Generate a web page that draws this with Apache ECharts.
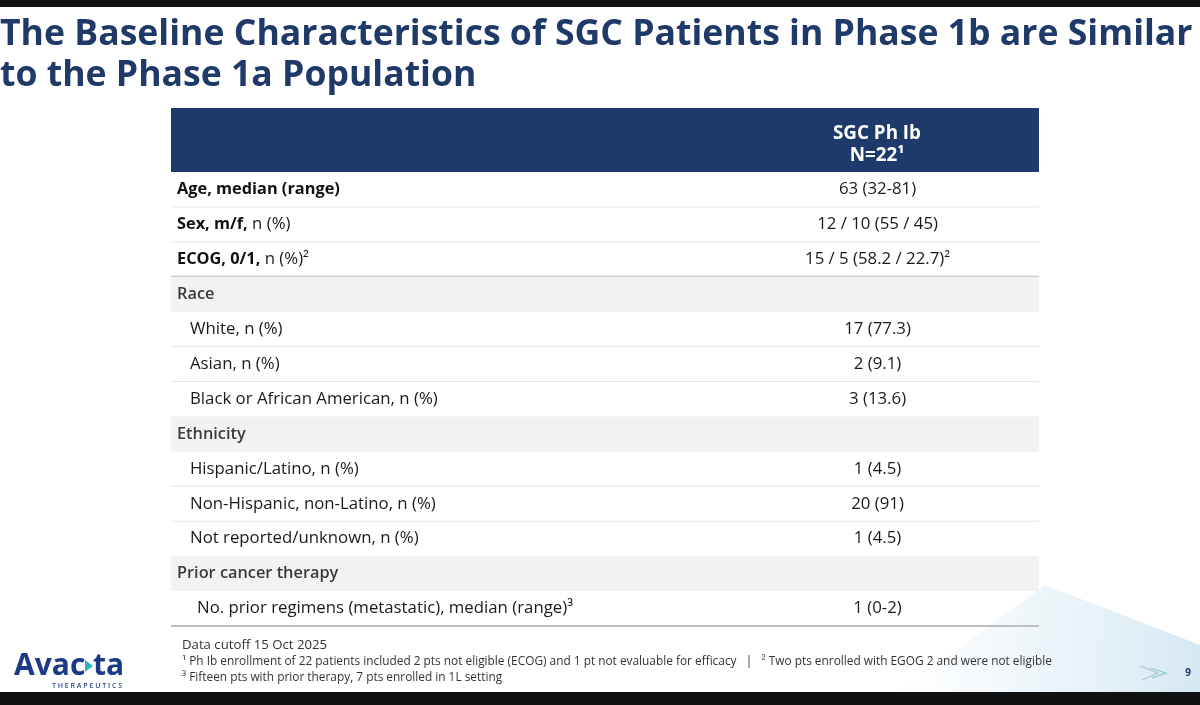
<!DOCTYPE html>
<html>
<head>
<meta charset="utf-8">
<script src="https://cdn.jsdelivr.net/npm/echarts@6/dist/echarts.min.js"></script>
<style>
  html, body { margin: 0; padding: 0; background: #fff; }
  #chart { width: 1200px; height: 705px; }
</style>
</head>
<body>
<div id="chart"></div>
<script>
// table content
const rowLabels = [
  '{b|Age, median (range)}',
  '{b|Sex, m/f,} n (%)',
  '{b|ECOG, 0/1,} n (%)²',
  '{s|Race}',
  'White, n (%)',
  'Asian, n (%)',
  'Black or African American, n (%)',
  '{s|Ethnicity}',
  'Hispanic/Latino, n (%)',
  'Non-Hispanic, non-Latino, n (%)',
  'Not reported/unknown, n (%)',
  '{s|Prior cancer therapy}',
  'No. prior regimens (metastatic), median (range)³'
];
const rowValues = [
  '63 (32-81)',
  '12 / 10 (55 / 45)',
  '15 / 5 (58.2 / 22.7)²',
  '',
  '17 (77.3)',
  '2 (9.1)',
  '3 (13.6)',
  '',
  '1 (4.5)',
  '20 (91)',
  '1 (4.5)',
  '',
  '1 (0-2)'
];
// main / section / sub / sub2
const rowKinds = [
  'main', 'main', 'main',
  'section', 'sub', 'sub', 'sub',
  'section', 'sub', 'sub', 'sub',
  'section', 'sub2'
];
const headerLines = ['SGC Ph Ib', 'N=22¹'];
const titleLines = [
  'The Baseline Characteristics of SGC Patients in Phase 1b are Similar',
  'to the Phase 1a Population'
];
const footnotes = [
  'Data cutoff 15 Oct 2025',
  '¹ Ph Ib enrollment of 22 patients included 2 pts not eligible (ECOG) and 1 pt not evaluable for efficacy   |   ² Two pts enrolled with EGOG 2 and were not eligible',
  '³ Fifteen pts with prior therapy, 7 pts enrolled in 1L setting'
];

const FONT = '"Open Sans", "Noto Sans", sans-serif';
const NAVY = '#1f3a68';
const VALUE_COL = 0.814;
const indent = { main: 6, section: 6, sub: 19, sub2: 26 };

// fit text widths to the slide
const ctx = document.createElement('canvas').getContext('2d');
function fitSize(text, weight, width, base) {
  ctx.font = weight + ' ' + base + 'px ' + FONT;
  return base * width / ctx.measureText(text).width;
}
const titleSize = fitSize(titleLines[0], 'bold', 1193, 30);
const noteSize = fitSize(footnotes[1], 'normal', 870, 11);
const cellSize = fitSize('Black or African American, n (%)', 'normal', 248, 15);
const boldSize = fitSize('Age, median (range)', 'bold', 163, 15);
const headSize = fitSize(headerLines[0], 'bold', 88, 15);

const chart = echarts.init(document.getElementById('chart'), null, { renderer: 'canvas' });

function renderRow(params, api) {
  const i = api.value(1);
  const kind = rowKinds[i];
  const cs = params.coordSys;
  const y = api.coord([0, i])[1];
  const h = api.size([0, 1])[1];
  const vx = api.coord([VALUE_COL, i])[0];
  const children = [];
  if (kind === 'section') {
    children.push({
      type: 'rect',
      shape: { x: cs.x, y: y - h / 2, width: cs.width, height: h },
      style: { fill: '#f2f2f2' }
    });
  }
  children.push({
    type: 'text',
    x: cs.x + indent[kind],
    y: y,
    style: {
      text: rowLabels[i],
      fill: '#1a1a1a',
      font: cellSize + 'px ' + FONT,
      align: 'left',
      verticalAlign: 'middle',
      rich: {
        b: { fontWeight: 'bold', fontSize: boldSize, fontFamily: FONT, fill: '#111' },
        s: { fontWeight: 600, fontSize: boldSize, fontFamily: FONT, fill: '#3a3a3a' }
      }
    }
  });
  if (rowValues[i]) {
    children.push({
      type: 'text',
      x: vx,
      y: y,
      style: {
        text: rowValues[i],
        fill: '#1a1a1a',
        font: cellSize + 'px ' + FONT,
        align: 'center',
        verticalAlign: 'middle'
      }
    });
  }
  const last = i === rowLabels.length - 1;
  const thick = last || i === 2;
  if ((kind !== 'section' && rowKinds[i + 1] !== 'section') || thick) {
    children.push({
      type: 'line',
      shape: { x1: cs.x, y1: y + h / 2, x2: cs.x + cs.width, y2: y + h / 2 },
      style: { stroke: thick ? '#bdbdbd' : '#e6e6e6', lineWidth: thick ? 2 : 1 }
    });
  }
  return { type: 'group', children: children };
}

const option = {
  backgroundColor: '#fff',
  animation: false,
  grid: { left: 171, right: 161, top: 172, bottom: 79 },
  xAxis: { type: 'value', min: 0, max: 1, show: false },
  yAxis: { type: 'category', data: rowLabels, inverse: true, show: false },
  series: [{
    type: 'custom',
    renderItem: renderRow,
    encode: { x: 0, y: 1 },
    data: rowLabels.map((_, i) => [0, i]),
    silent: true
  }],
  graphic: [
    // top and bottom black bars
    { type: 'rect', shape: { x: 0, y: 0, width: 1200, height: 7 }, style: { fill: '#111' } },
    { type: 'rect', shape: { x: 0, y: 692, width: 1200, height: 13 }, style: { fill: '#111' } },
    // decorative light-blue sweep bottom right
    {
      type: 'polygon', z: -1,
      shape: { points: [[900, 692], [1045, 585], [1200, 645], [1200, 692]] },
      style: {
        fill: new echarts.graphic.LinearGradient(0, 0, 1, 0.2, [
          { offset: 0, color: 'rgba(235,244,250,0)' },
          { offset: 0.5, color: 'rgba(228,240,247,0.7)' },
          { offset: 1, color: 'rgba(214,232,243,1)' }
        ])
      }
    },
    // title
    {
      type: 'text', x: 0, y: 35,
      style: { text: titleLines[0], font: 'bold ' + titleSize + 'px ' + FONT, fill: NAVY, verticalAlign: 'middle' }
    },
    {
      type: 'text', x: 0, y: 76,
      style: { text: titleLines[1], font: 'bold ' + titleSize + 'px ' + FONT, fill: NAVY, verticalAlign: 'middle' }
    },
    // table header
    { type: 'rect', shape: { x: 171, y: 108, width: 868, height: 64 }, style: { fill: '#1d3a6b' } },
    {
      type: 'text', x: 877, y: 134,
      style: { text: headerLines[0], font: 'bold ' + headSize + 'px ' + FONT, fill: '#fff', align: 'center', verticalAlign: 'middle' }
    },
    {
      type: 'text', x: 877, y: 156,
      style: { text: headerLines[1], font: 'bold ' + headSize + 'px ' + FONT, fill: '#fff', align: 'center', verticalAlign: 'middle' }
    },
    // footnotes
    {
      type: 'text', x: 182, y: 645,
      style: { text: footnotes[0], font: '13.2px ' + FONT, fill: '#333', verticalAlign: 'middle' }
    },
    {
      type: 'text', x: 182, y: 662,
      style: { text: footnotes[1], font: noteSize + 'px ' + FONT, fill: '#333', verticalAlign: 'middle' }
    },
    {
      type: 'text', x: 182, y: 678,
      style: { text: footnotes[2], font: noteSize + 'px ' + FONT, fill: '#333', verticalAlign: 'middle' }
    },
    // logo
    {
      type: 'text', x: 14, y: 666,
      style: { text: 'Avac ta', font: 'bold 30px ' + FONT, fill: '#1b3a86', verticalAlign: 'middle' }
    },
    {
      type: 'polygon',
      shape: { points: [[85, 660], [93, 666], [85, 672]] },
      style: { fill: '#2bb3c0' }
    },
    {
      type: 'text', x: 122, y: 686,
      style: { text: 'T H E R A P E U T I C S', font: '600 7px ' + FONT, fill: '#2a4a8c', align: 'right', verticalAlign: 'middle' }
    },
    // chevrons and page number
    {
      type: 'polyline',
      shape: { points: [[1140, 666], [1158, 673], [1142, 680]] },
      style: { stroke: '#aac4d4', lineWidth: 1.2, fill: 'none' }
    },
    {
      type: 'polyline',
      shape: { points: [[1150, 668], [1166, 673], [1152, 678]] },
      style: { stroke: '#8fc7d1', lineWidth: 1.2, fill: 'none' }
    },
    {
      type: 'text', x: 1188, y: 673,
      style: { text: '9', font: 'bold 10px ' + FONT, fill: NAVY, align: 'center', verticalAlign: 'middle' }
    }
  ]
};

chart.setOption(option);
</script>
</body>
</html>
